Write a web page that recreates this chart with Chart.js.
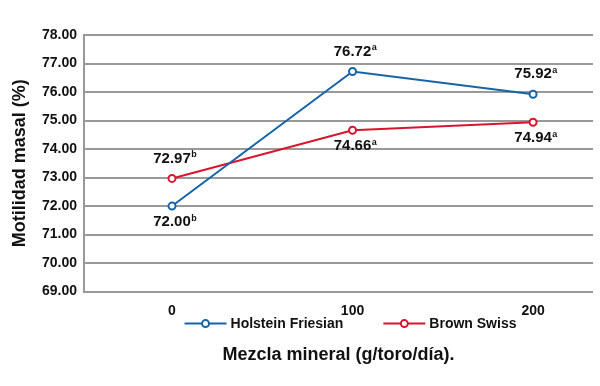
<!DOCTYPE html>
<html>
<head>
<meta charset="utf-8">
<script src="https://cdn.jsdelivr.net/npm/chart.js@4/dist/chart.umd.min.js"></script>
<style>
	html, body { margin: 0; padding: 0; background: #fff; }
	#wrap { width: 600px; height: 386px; }
</style>
</head>
<body>
<div id="wrap"><canvas id="chart"></canvas></div>
<script>
// Data
var doses = [0, 100, 200];
var holstein = [72.00, 76.72, 75.92];
var holsteinLetters = ['b', 'a', 'a'];
var brownSwiss = [72.97, 74.66, 74.94];
var brownSwissLetters = ['b', 'a', 'a'];
var yMin = 69, yMax = 78;

var FONT = '"Liberation Sans", Arial, sans-serif';
var BLUE = '#1664a8';
var RED = '#d9142f';

Chart.defaults.font.family = FONT;
Chart.defaults.font.weight = 'bold';
Chart.defaults.color = '#111';

function toPoints(values) {
	return values.map(function(v, i) { return { x: doses[i], y: v }; });
}

// Value labels with the significance letter as superscript
var valueLabels = {
	id: 'valueLabels',
	afterDatasetsDraw: function(chart) {
		var ctx = chart.ctx;
		chart.data.datasets.forEach(function(ds, i) {
			var meta = chart.getDatasetMeta(i);
			meta.data.forEach(function(pt, j) {
				var text = ds.data[j].y.toFixed(2);
				var dy = ds.labelSide[j] === 'above' ? -20 : 16;
				ctx.save();
				ctx.font = 'bold 15px ' + FONT;
				ctx.fillStyle = '#111';
				ctx.textBaseline = 'middle';
				ctx.textAlign = 'left';
				var w = ctx.measureText(text).width;
				var x0 = pt.x - w / 2;
				ctx.fillText(text, x0, pt.y + dy);
				ctx.font = 'bold 9px ' + FONT;
				ctx.fillText(ds.letters[j], x0 + w + 0.5, pt.y + dy - 4);
				ctx.restore();
			});
		});
	}
};

// Legend with line + circle samples, sitting between tick labels and axis title
var lineLegend = {
	id: 'lineLegend',
	afterDraw: function(chart) {
		var ctx = chart.ctx, area = chart.chartArea;
		var sample = 42, gap = 4, spacing = 40;
		ctx.save();
		ctx.font = 'bold 14px ' + FONT;
		var items = chart.data.datasets.map(function(ds) {
			return { ds: ds, w: ctx.measureText(ds.label).width };
		});
		var total = spacing * (items.length - 1);
		items.forEach(function(it) { total += sample + gap + it.w; });
		var x = (area.left + area.right) / 2 + 12 - total / 2;
		var y = area.bottom + 32;
		items.forEach(function(it) {
			ctx.strokeStyle = it.ds.borderColor;
			ctx.lineWidth = 2;
			ctx.beginPath();
			ctx.moveTo(x, y);
			ctx.lineTo(x + sample, y);
			ctx.stroke();
			ctx.beginPath();
			ctx.arc(x + sample / 2, y, 3.5, 0, Math.PI * 2);
			ctx.fillStyle = '#fff';
			ctx.fill();
			ctx.stroke();
			ctx.fillStyle = '#111';
			ctx.textBaseline = 'middle';
			ctx.textAlign = 'left';
			ctx.fillText(it.ds.label, x + sample + gap, y + 1);
			x += sample + gap + it.w + spacing;
		});
		ctx.restore();
	}
};

var ctx = document.getElementById('chart');

var chart = new Chart(ctx, {
	type: 'line',
	data: {
		datasets: [
			{
				label: 'Holstein Friesian',
				data: toPoints(holstein),
				letters: holsteinLetters,
				labelSide: ['below', 'above', 'above'],
				borderColor: BLUE,
				backgroundColor: '#fff',
				borderWidth: 2,
				pointRadius: 3.5,
				pointBorderWidth: 2,
				pointBackgroundColor: '#fff',
				pointBorderColor: BLUE,
				tension: 0
			},
			{
				label: 'Brown Swiss',
				data: toPoints(brownSwiss),
				letters: brownSwissLetters,
				labelSide: ['above', 'below', 'below'],
				borderColor: RED,
				backgroundColor: '#fff',
				borderWidth: 2,
				pointRadius: 3.5,
				pointBorderWidth: 2,
				pointBackgroundColor: '#fff',
				pointBorderColor: RED,
				tension: 0
			}
		]
	},
	options: {
		responsive: true,
		maintainAspectRatio: false,
		animation: false,
		layout: { padding: { left: 5, right: 7, top: 35, bottom: 16 } },
		plugins: {
			legend: { display: false },
			tooltip: { enabled: false }
		},
		scales: {
			x: {
				type: 'linear',
				min: -48.75,
				max: 233.2,
				afterBuildTicks: function(scale) {
					scale.ticks = doses.map(function(v) { return { value: v }; });
				},
				grid: { display: false, drawTicks: false },
				border: { display: false },
				ticks: {
					padding: 11,
					font: { size: 14, weight: 'bold' },
					color: '#111',
					maxRotation: 0,
					callback: function(v) { return String(v); }
				},
				title: {
					display: true,
					text: 'Mezcla mineral (g/toro/día).',
					font: { size: 18, weight: 'bold' },
					color: '#111',
					padding: { top: 14, bottom: 4 }
				}
			},
			y: {
				min: yMin,
				max: yMax,
				afterFit: function(scale) { scale.width = 79; },
				ticks: {
					stepSize: 1,
					padding: 7,
					font: { size: 14, weight: 'bold' },
					color: '#111',
					callback: function(v) { return v.toFixed(2); }
				},
				grid: { color: '#999', lineWidth: 2, drawTicks: false },
				border: { display: true, color: '#999', width: 2 },
				title: {
					display: true,
					text: 'Motilidad masal (%)',
					font: { size: 18, weight: 'bold' },
					color: '#111',
					padding: { top: 4, bottom: 4 }
				}
			}
		}
	},
	plugins: [valueLabels, lineLegend]
});
</script>
</body>
</html>
